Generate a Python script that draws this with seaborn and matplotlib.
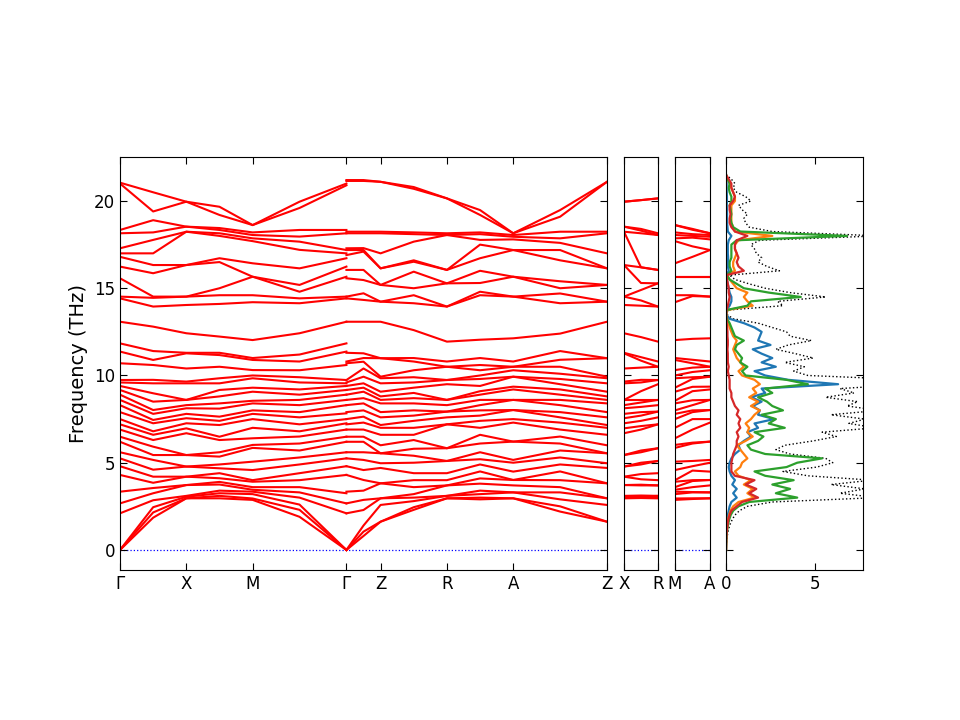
import numpy as np
import pandas as pd
import matplotlib
matplotlib.use('Agg')
import matplotlib.pyplot as plt
import seaborn as sns

# --- band structure: frequencies (THz) read at path points, one list per k-point ---
# path Γ-X-M-Γ | Γ-Z-R-A-Z, plus X-R and M-A
seg_left = [0.5, 0.5, 0.7071]               # Γ-X, X-M, M-Γ
seg_right = [0.2576, 0.5, 0.5, 0.7071]      # Γ-Z, Z-R, R-A, A-Z
seg_side = 0.2576                            # X-R and M-A

labels_main = ['Γ', 'X', 'M', 'Γ', 'Z', 'R', 'A', 'Z']
labels_xr = ['X', 'R']
labels_ma = ['M', 'A']

gamma_a = [0, 0, 0, 2.10, 2.67, 3.34, 4.30, 4.80, 5.25, 5.60, 6.20, 6.49, 6.90, 7.20, 7.50, 7.90, 8.30, 8.60, 8.90,
           9.17, 9.40, 9.60, 9.74, 10.70, 11.37, 11.84, 13.08, 14.42, 14.52, 15.57, 16.24, 16.80, 17.00, 17.29,
           18.15, 18.34, 21.00, 21.05]
gx_mid = [1.85, 2.15, 2.45, 2.85, 3.25, 3.55, 3.85, 4.20, 4.60, 5.16, 5.44, 5.92, 6.30, 6.60, 6.80, 7.26, 7.45, 7.80,
          8.02, 8.50, 8.98, 9.55, 9.75, 10.60, 10.89, 11.40, 12.80, 13.95, 14.45, 14.52, 15.86, 16.33, 17.00, 17.77,
          18.20, 18.90, 19.40, 20.50]
x_pt = [2.96, 2.96, 3.05, 3.10, 3.72, 3.72, 4.20, 4.20, 4.78, 4.78, 5.44, 5.44, 6.69, 6.97, 7.26, 7.55, 7.80, 8.12,
        8.30, 8.60, 8.60, 9.55, 9.65, 10.40, 11.27, 11.30, 12.42, 14.04, 14.52, 14.52, 16.33, 16.33, 18.24, 18.24,
        18.53, 18.53, 19.96, 19.96]
xm_mid = [2.96, 3.10, 3.25, 3.40, 3.75, 3.90, 4.11, 4.40, 4.68, 4.90, 5.35, 5.60, 6.30, 6.49, 7.16, 7.40, 7.64, 8.10,
          8.40, 8.80, 9.17, 9.55, 9.84, 10.50, 11.17, 11.30, 12.23, 14.10, 14.60, 15.00, 16.50, 16.72, 18.00, 18.15,
          18.34, 18.45, 19.20, 19.67]
m_pt = [2.87, 2.95, 3.20, 3.34, 3.45, 3.60, 3.91, 4.00, 4.58, 5.06, 5.85, 6.02, 6.40, 7.00, 7.50, 7.80, 8.00, 8.40,
        8.55, 9.07, 9.30, 9.84, 10.00, 10.31, 10.89, 11.00, 12.03, 14.20, 14.60, 15.66, 15.66, 16.43, 17.70, 17.86,
        18.05, 18.20, 18.62, 18.62]
mg_mid = [1.90, 2.30, 2.60, 3.00, 3.30, 3.60, 4.00, 4.40, 4.90, 5.30, 5.70, 6.10, 6.50, 6.80, 7.20, 7.60, 7.90, 8.30,
          8.60, 8.90, 9.20, 9.60, 9.90, 10.30, 10.80, 11.20, 12.42, 14.14, 14.42, 14.80, 15.19, 16.14, 17.20, 17.67,
          17.96, 18.34, 19.60, 19.96]
gamma_b = [0, 0, 0, 2.10, 2.67, 3.25, 4.30, 4.80, 5.25, 5.60, 6.20, 6.49, 6.90, 7.26, 7.50, 7.83, 8.30, 8.60, 8.90,
           9.17, 9.40, 9.55, 9.74, 10.60, 11.37, 11.84, 13.08, 14.42, 14.52, 15.66, 16.24, 16.72, 17.00, 17.19,
           18.15, 18.34, 20.90, 21.00]
gamma_c = [0, 0, 0, 2.10, 2.67, 3.34, 4.30, 4.80, 5.25, 5.60, 6.20, 6.49, 6.90, 7.20, 7.50, 7.90, 8.30, 8.60, 8.90,
           9.17, 9.40, 9.60, 9.74, 10.70, 10.80, 11.30, 13.08, 14.42, 14.52, 15.57, 16.05, 16.90, 17.19, 17.29,
           18.15, 18.24, 21.15, 21.20]
gz_mid = [0.80, 1.05, 1.40, 2.29, 2.87, 3.40, 4.01, 4.58, 5.16, 5.60, 6.20, 6.49, 6.90, 7.30, 7.64, 8.00, 8.40, 8.70,
          9.07, 9.30, 9.55, 9.93, 10.40, 10.79, 11.00, 11.27, 13.08, 14.33, 14.71, 15.47, 16.05, 17.10, 17.19, 17.30,
          18.15, 18.24, 21.15, 21.20]
z_pt = [1.62, 1.62, 2.58, 2.96, 2.96, 3.82, 3.82, 4.70, 4.97, 5.54, 5.54, 6.00, 6.60, 7.00, 7.16, 7.60, 7.90, 8.40,
        8.60, 8.80, 9.07, 9.55, 9.84, 9.93, 10.99, 10.99, 13.08, 14.23, 14.23, 15.19, 15.19, 16.14, 16.14, 17.00,
        18.15, 18.24, 21.10, 21.10]
zr_mid = [2.30, 2.45, 2.80, 3.00, 3.20, 3.60, 4.00, 4.40, 5.00, 5.40, 5.80, 6.30, 6.60, 7.00, 7.40, 7.70, 8.00, 8.40,
          8.70, 9.00, 9.30, 9.60, 9.90, 10.30, 10.80, 11.00, 12.60, 14.14, 14.60, 15.00, 15.95, 16.52, 16.60, 17.67,
          18.10, 18.20, 20.70, 20.80]
r_pt = [2.96, 2.96, 3.10, 3.10, 3.70, 3.70, 4.00, 4.40, 5.10, 5.10, 5.83, 5.83, 7.20, 7.20, 7.60, 7.93, 7.93, 8.30,
        8.60, 8.60, 9.50, 9.74, 9.74, 10.50, 10.50, 10.80, 11.94, 13.95, 13.95, 15.28, 15.28, 16.05, 16.05, 18.05,
        18.05, 18.15, 20.15, 20.15]
ra_mid = [2.90, 3.00, 3.20, 3.40, 3.80, 4.10, 4.50, 4.90, 5.20, 5.60, 6.10, 6.60, 7.00, 7.40, 7.70, 8.00, 8.30, 8.60,
          8.90, 9.10, 9.40, 9.80, 10.00, 10.30, 10.60, 11.00, 12.05, 14.60, 14.80, 15.30, 16.00, 16.72, 17.50, 17.77,
          18.10, 18.20, 19.20, 19.48]
a_pt = [2.96, 2.96, 3.30, 3.30, 3.70, 4.01, 4.01, 4.49, 5.00, 5.16, 6.21, 6.21, 7.30, 7.50, 8.02, 8.02, 8.60, 8.60,
        9.20, 9.36, 9.93, 9.93, 10.30, 10.50, 10.50, 10.80, 12.13, 14.52, 14.52, 15.66, 15.66, 17.19, 17.19, 17.80,
        17.95, 18.05, 18.15, 18.15]
az_mid = [2.20, 2.50, 2.90, 3.30, 3.60, 4.00, 4.50, 4.90, 5.30, 5.70, 6.10, 6.50, 6.90, 7.30, 7.60, 7.90, 8.30, 8.60,
          8.90, 9.20, 9.50, 9.80, 10.10, 10.50, 10.90, 11.40, 12.40, 14.14, 14.70, 15.00, 15.40, 16.60, 17.19, 17.60,
          17.86, 18.24, 19.10, 19.48]
xr_mid = [2.96, 2.98, 3.06, 3.12, 3.70, 3.74, 4.05, 4.35, 4.90, 5.00, 5.60, 5.70, 6.90, 7.10, 7.40, 7.70, 7.90, 8.20,
          8.45, 8.60, 9.10, 9.60, 9.75, 10.45, 10.85, 11.05, 12.20, 14.00, 14.30, 14.90, 15.30, 16.20, 16.20, 18.15,
          18.30, 18.40, 20.05, 20.05]
ma_mid = [2.92, 2.96, 3.30, 3.32, 3.60, 3.95, 4.00, 4.55, 4.80, 5.10, 6.10, 6.15, 6.90, 7.50, 7.90, 8.00, 8.30, 8.58,
          9.10, 9.35, 9.80, 9.90, 10.20, 10.45, 10.70, 10.90, 12.10, 14.55, 14.60, 15.66, 15.66, 16.80, 17.40, 17.90,
          18.00, 18.10, 18.35, 18.40]

# --- phonon DOS: frequency grid (THz) and total / partial DOS ---
dos_freq = [0.0, 0.25, 0.5, 0.75, 1.0, 1.25, 1.5, 1.75, 2.0, 2.25,
            2.5, 2.75, 3.0, 3.25, 3.5, 3.75, 4.0, 4.25, 4.5, 4.75,
            5.0, 5.25, 5.5, 5.75, 6.0, 6.25, 6.5, 6.75, 7.0, 7.25,
            7.5, 7.75, 8.0, 8.25, 8.5, 8.75, 9.0, 9.25, 9.5, 9.75,
            10.0, 10.25, 10.5, 10.75, 11.0, 11.25, 11.5, 11.75, 12.0, 12.25,
            12.5, 12.75, 13.0, 13.25, 13.5, 13.75, 14.0, 14.25, 14.5, 14.75,
            15.0, 15.25, 15.5, 15.75, 16.0, 16.25, 16.5, 16.75, 17.0, 17.25,
            17.5, 17.75, 18.0, 18.25, 18.5, 18.75, 19.0, 19.25, 19.5, 19.75,
            20.0, 20.25, 20.5, 20.75, 21.0, 21.25, 21.5]
dos_total = [0, 0.01, 0.03, 0.06, 0.1, 0.16, 0.24, 0.35, 0.5, 0.75,
             1.2, 2.6, 8.5, 6.4, 7.8, 5.9, 8.2, 4.6, 3.2, 5.1,
             6.0, 5.6, 3.6, 2.8, 3.3, 4.9, 6.2, 5.4, 8.4, 6.9,
             7.8, 5.9, 8.6, 6.8, 7.4, 5.6, 7.2, 6.4, 10.5, 10.5,
             4.6, 3.8, 4.4, 3.3, 4.9, 3.9, 2.8, 3.5, 4.8, 3.6,
             3.4, 2.6, 1.8, 0.4, 0.05, 0.1, 3.2, 2.9, 5.6, 3.6,
             2.2, 1.3, 0.5, 0.2, 3.0, 2.3, 1.8, 2.0, 1.7, 1.6,
             1.4, 1.9, 8.6, 2.6, 1.3, 1.1, 1.0, 1.2, 0.9, 0.7,
             1.4, 1.1, 0.6, 0.4, 0.5, 0.3, 0.0]
dos_blue = [0, 0.003, 0.008, 0.015, 0.025, 0.04, 0.06, 0.08, 0.1, 0.15,
            0.2, 0.3, 0.6, 0.4, 0.6, 0.35, 0.5, 0.3, 0.2, 0.15,
            0.2, 0.3, 0.5, 0.8, 0.7, 1.0, 1.4, 1.2, 1.8, 1.6,
            2.7, 1.8, 1.9, 1.5, 2.0, 1.4, 2.2, 2.0, 6.3, 3.5,
            2.2, 1.6, 2.8, 2.0, 2.6, 2.0, 1.5, 2.5, 1.8, 1.9,
            2.0, 1.6, 1.0, 0.2, 0.01, 0.02, 0.2, 0.3, 0.3, 0.2,
            0.15, 0.1, 0.05, 0.02, 0.15, 0.1, 0.1, 0.12, 0.1, 0.1,
            0.1, 0.15, 0.3, 0.1, 0.08, 0.06, 0.05, 0.06, 0.05, 0.04,
            0.05, 0.05, 0.04, 0.03, 0.03, 0.02, 0.0]
dos_orange = [0, 0.004, 0.01, 0.02, 0.035, 0.055, 0.08, 0.12, 0.17, 0.25,
              0.4, 0.7, 1.6, 1.2, 1.5, 1.0, 1.4, 0.7, 0.5, 0.8,
              0.9, 1.2, 1.0, 0.8, 0.6, 1.1, 1.5, 1.2, 1.3, 1.1,
              1.4, 1.6, 1.9, 1.4, 1.8, 1.3, 1.7, 1.5, 1.9, 1.6,
              0.9, 0.7, 1.0, 0.8, 0.6, 0.5, 0.4, 0.5, 0.6, 0.4,
              0.3, 0.2, 0.15, 0.05, 0.01, 0.05, 1.5, 1.2, 1.0, 1.2,
              0.6, 0.4, 0.2, 0.05, 0.5, 0.4, 0.4, 0.5, 0.6, 0.5,
              0.5, 0.7, 2.6, 0.5, 0.4, 0.3, 0.3, 0.3, 0.3, 0.3,
              0.5, 0.5, 0.4, 0.3, 0.2, 0.1, 0.0]
dos_green = [0, 0.005, 0.015, 0.03, 0.05, 0.08, 0.12, 0.18, 0.26, 0.4,
             0.7, 1.3, 4.0, 2.8, 3.6, 2.6, 3.8, 2.2, 1.6, 3.4,
             4.0, 5.4, 2.2, 1.4, 1.2, 1.8, 2.1, 1.6, 3.3, 2.4,
             2.8, 2.0, 3.2, 2.6, 2.3, 1.8, 2.6, 2.2, 4.6, 3.4,
             1.1, 0.9, 1.2, 0.8, 0.9, 0.7, 0.5, 0.6, 1.0, 0.5,
             0.4, 0.3, 0.2, 0.05, 0.01, 0.02, 1.2, 1.4, 4.2, 2.4,
             1.0, 0.6, 0.2, 0.05, 0.3, 0.2, 0.2, 0.3, 0.3, 0.3,
             0.3, 0.6, 6.8, 0.8, 0.4, 0.3, 0.25, 0.3, 0.25, 0.2,
             0.3, 0.3, 0.2, 0.15, 0.2, 0.1, 0.0]
dos_red = [0, 0.004, 0.01, 0.02, 0.035, 0.06, 0.09, 0.13, 0.2, 0.3,
           0.6, 0.9, 1.8, 1.3, 1.7, 1.1, 1.6, 0.5, 0.3, 0.3,
           0.3, 0.35, 0.4, 0.5, 0.6, 0.6, 0.7, 0.6, 0.8, 0.7,
           0.8, 0.6, 0.7, 0.5, 0.4, 0.3, 0.3, 0.2, 0.2, 0.2,
           0.15, 0.1, 0.15, 0.1, 0.1, 0.1, 0.08, 0.1, 0.1, 0.08,
           0.08, 0.06, 0.04, 0.02, 0.01, 0.02, 0.1, 0.15, 0.2, 0.15,
           0.15, 0.1, 0.05, 0.02, 1.0, 0.7, 0.6, 0.7, 0.6, 0.5,
           0.5, 0.6, 1.2, 0.5, 0.3, 0.2, 0.2, 0.25, 0.2, 0.2,
           0.4, 0.5, 0.4, 0.3, 0.3, 0.15, 0.0]


def kpoints(start, lengths):
    # start, middle and end of each segment
    pos = [start]
    for L in lengths:
        pos += [pos[-1] + L / 2, pos[-1] + L]
    return pos


def band_frame(columns, kpos, tag):
    rows = []
    for k, col in zip(kpos, columns):
        for b, f in enumerate(col):
            rows.append((k, f, f'{tag}{b}'))
    return pd.DataFrame(rows, columns=['k', 'freq', 'band'])


k_left = kpoints(0.0, seg_left)
k_right = kpoints(k_left[-1], seg_right)
k_side = kpoints(0.0, [seg_side])

df_main = pd.concat([
    band_frame([gamma_a, gx_mid, x_pt, xm_mid, m_pt, mg_mid, gamma_b], k_left, 'L'),
    band_frame([gamma_c, gz_mid, z_pt, zr_mid, r_pt, ra_mid, a_pt, az_mid, z_pt], k_right, 'R'),
])
df_xr = band_frame([x_pt, xr_mid, r_pt], k_side, 'XR')
df_ma = band_frame([m_pt, ma_mid, a_pt], k_side, 'MA')

ticks_main = k_left[::2] + k_right[2::2]

fig = plt.figure(figsize=(9.6, 7.2), dpi=100)
bottom, height = 0.2083, 0.5736
ax1 = fig.add_axes([0.125, bottom, 0.5073, height])
ax2 = fig.add_axes([0.65, bottom, 0.0354, height])
ax3 = fig.add_axes([0.7031, bottom, 0.0365, height])
ax4 = fig.add_axes([0.7563, bottom, 0.1427, height])

ylim = (-1.15, 22.52)
for ax, df, ticks, labels in [(ax1, df_main, ticks_main, labels_main),
                              (ax2, df_xr, [k_side[0], k_side[-1]], labels_xr),
                              (ax3, df_ma, [k_side[0], k_side[-1]], labels_ma)]:
    ax.axhline(0, color='b', ls=':', lw=0.9, zorder=1)
    sns.lineplot(data=df, x='k', y='freq', units='band', estimator=None, sort=False,
                 color='red', lw=1.5, legend=False, ax=ax)
    ax.set_xlim(ticks[0], ticks[-1])
    ax.set_xticks(ticks)
    ax.set_xticklabels(labels)
    ax.set_xlabel('')
    ax.set_ylabel('')

# DOS panel
sns.lineplot(x=dos_total, y=dos_freq, sort=False, estimator=None, color='k', ls=':', lw=1.0, ax=ax4)
for vals, c in [(dos_blue, 'C0'), (dos_orange, 'C1'), (dos_green, 'C2'), (dos_red, 'C3')]:
    sns.lineplot(x=vals, y=dos_freq, sort=False, estimator=None, color=c, lw=1.6, ax=ax4)
ax4.set_xlim(0, 7.7)
ax4.set_xticks([0, 5])

for ax in (ax1, ax2, ax3, ax4):
    ax.set_ylim(*ylim)
    ax.set_yticks([0, 5, 10, 15, 20])
    ax.tick_params(direction='in', top=True, right=True, labelsize=12, length=5)
    if ax is not ax1:
        ax.set_yticklabels([])

ax1.set_ylabel('Frequency (THz)', fontsize=14)

fig.savefig('out.png', dpi=100)
